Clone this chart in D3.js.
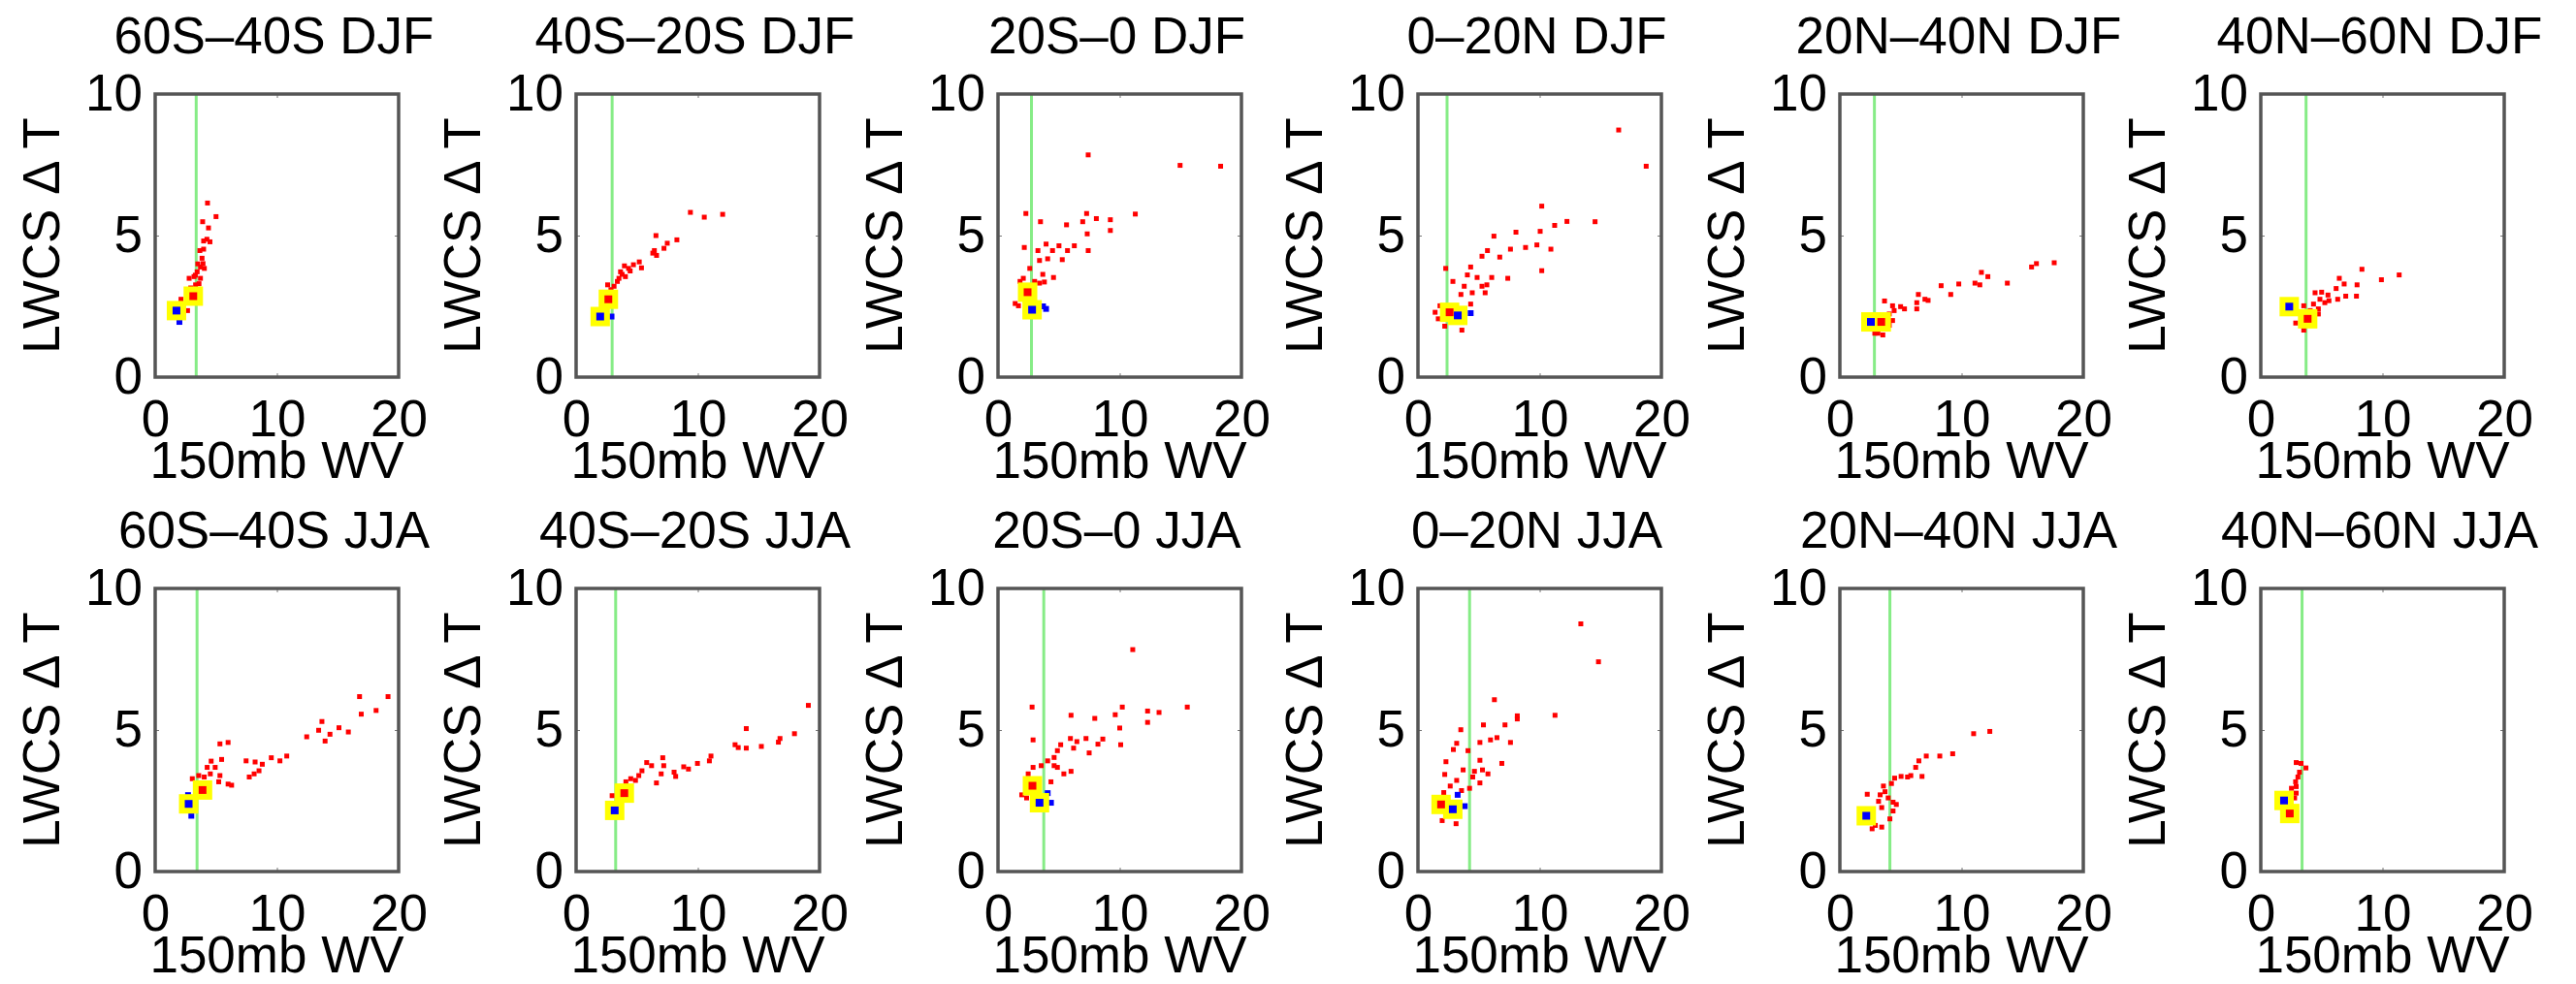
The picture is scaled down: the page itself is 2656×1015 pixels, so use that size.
<!DOCTYPE html>
<html>
<head>
<meta charset="utf-8">
<script src="https://cdn.jsdelivr.net/npm/d3@7"></script>
<style>
  body { margin: 0; background: #fff; }
  text { font-family: "Liberation Sans", Arial, Helvetica, sans-serif; fill: #000; }
</style>
</head>
<body>
<div id="chart"></div>
<script>
// panel titles
const regions = ["60S\u201340S", "40S\u201320S", "20S\u20130", "0\u201320N", "20N\u201340N", "40N\u201360N"];
const seasons = ["DJF", "JJA"];
const xTicks = [0, 10, 20];
const yTicks = [0, 5, 10];
const xLabel = "150mb WV";
const yLabel = "LWCS \u0394 T";

// green reference line (x position), one per panel
const greenX_DJF = [3.37, 2.96, 2.75, 2.39, 2.84, 3.72];
const greenX_JJA = [3.44, 3.25, 3.76, 4.24, 4.11, 3.39];

// highlighted means (yellow squares) : [x, y] or null
const yellowRed_DJF = [[3.13, 2.86], [2.65, 2.75], [2.43, 3.0], [2.6, 2.29], [3.4, 1.95], [3.85, 2.06]];
const yellowBlue_DJF = [[1.75, 2.35], [1.98, 2.14], [2.8, 2.38], [3.27, 2.18], [2.55, 1.95], [2.34, 2.49]];
const yellowRed_JJA = [[3.89, 2.88], [3.96, 2.77], [2.83, 3.03], [1.9, 2.37], null, [2.38, 2.05]];
const yellowBlue_JJA = [[2.75, 2.39], [3.17, 2.16], [3.41, 2.43], [2.86, 2.2], [2.17, 1.97], [1.91, 2.51]];

// extra blue points
const blue_DJF = [[[1.99, 1.95]], [[2.91, 2.14]], [[3.95, 2.41], [3.7, 2.5]], [[4.33, 2.26]], [], []];
const blue_JJA = [[[2.97, 1.97], [2.7, 2.7]], [], [[4.35, 2.43], [4.08, 2.77]], [[3.84, 2.31], [3.26, 2.71]], [], []];

// red scatter points per panel
const red_60S40S_DJF = [[4.3, 6.15], [5.0, 5.67], [3.9, 5.49], [4.38, 5.27], [4.25, 4.87], [4.5, 4.78], [3.98, 4.81], [3.67, 4.47], [3.98, 4.52], [3.93, 4.01], [3.72, 3.89], [4.04, 3.84], [3.45, 3.72], [2.79, 3.49], [3.19, 3.55], [3.72, 3.49], [3.32, 3.26], [2.92, 3.15], [2.79, 2.63], [2.66, 2.35], [2.12, 2.75], [3.5, 4.0], [3.6, 3.3], [3.1, 3.0], [3.85, 4.2], [3.3, 3.6]];
const red_40S20S_DJF = [[9.39, 5.82], [10.53, 5.65], [12.04, 5.75], [6.56, 5.0], [8.28, 4.85], [7.49, 4.73], [7.22, 4.55], [6.43, 4.47], [6.61, 4.3], [6.3, 4.38], [5.37, 3.86], [5.19, 4.07], [4.71, 3.97], [4.31, 3.84], [3.97, 3.93], [3.78, 3.63], [4.05, 3.55], [3.52, 3.49], [3.39, 3.38], [3.12, 3.21], [2.59, 3.26], [2.86, 3.09], [3.65, 3.72], [4.44, 3.75]];
const red_20S0_DJF = [[7.41, 7.85], [14.96, 7.48], [18.29, 7.45], [2.29, 5.78], [3.49, 5.49], [5.63, 5.38], [7.28, 5.78], [6.96, 5.49], [8.08, 5.6], [9.23, 5.56], [11.28, 5.76], [9.23, 5.18], [7.33, 5.06], [2.16, 4.58], [3.28, 4.47], [3.95, 4.7], [4.48, 4.47], [5.01, 4.64], [6.27, 4.64], [5.71, 4.47], [7.41, 4.47], [5.28, 4.15], [4.08, 4.18], [3.41, 4.12], [2.61, 3.84], [3.68, 3.63], [4.56, 3.52], [3.01, 3.38], [3.81, 3.36], [2.08, 3.49], [1.81, 3.38], [1.41, 2.6], [1.68, 2.52], [3.41, 3.32]];
const red_0N20N_DJF = [[16.49, 8.73], [18.75, 7.45], [10.17, 6.04], [11.23, 5.36], [12.24, 5.5], [14.55, 5.49], [6.24, 4.98], [8.05, 5.12], [10.04, 5.15], [5.71, 4.47], [5.26, 4.27], [6.72, 4.24], [7.6, 4.52], [8.84, 4.58], [9.77, 4.67], [10.92, 4.52], [10.17, 3.76], [7.38, 3.49], [2.28, 3.84], [4.33, 3.89], [4.06, 3.61], [4.86, 3.52], [6.06, 3.52], [2.87, 3.38], [3.8, 3.21], [5.26, 3.21], [5.66, 3.26], [5.52, 2.98], [4.46, 2.98], [3.53, 2.92], [4.33, 2.58], [1.81, 2.52], [1.67, 2.06], [2.2, 1.8], [3.61, 1.66], [1.41, 2.29]];
const red_20N40N_DJF = [[16.15, 4.01], [17.61, 4.04], [15.75, 3.89], [11.63, 3.7], [12.16, 3.55], [11.1, 3.32], [11.5, 3.26], [13.76, 3.32], [9.77, 3.29], [9.11, 2.92], [8.32, 3.23], [6.45, 2.92], [6.99, 2.75], [6.32, 2.63], [7.25, 2.71], [3.67, 2.69], [4.33, 2.52], [4.99, 2.49], [5.31, 2.41], [4.46, 2.35], [4.06, 2.23], [6.32, 2.41], [4.33, 2.0], [4.06, 1.83], [3.13, 1.55], [2.87, 1.55], [3.53, 1.49]];
const red_40N60N_DJF = [[8.31, 3.81], [11.37, 3.61], [9.91, 3.44], [6.45, 3.49], [6.85, 3.29], [7.91, 3.26], [6.19, 3.13], [4.46, 2.98], [5.52, 2.9], [6.98, 2.86], [7.86, 2.86], [6.32, 2.75], [4.86, 2.75], [5.26, 2.63], [4.33, 2.58], [4.73, 2.41], [4.06, 2.35], [3.53, 2.52], [4.73, 2.23], [2.87, 1.91], [3.53, 1.66], [5.0, 3.0], [5.6, 2.7]];
const red_60S40S_JJA = [[16.79, 6.18], [19.13, 6.18], [18.15, 5.69], [16.93, 5.56], [13.7, 5.3], [13.43, 4.99], [15.1, 5.08], [14.36, 4.85], [15.87, 4.93], [13.96, 4.61], [12.45, 4.76], [10.81, 4.08], [10.25, 3.91], [9.54, 4.02], [8.8, 3.79], [8.21, 3.87], [7.47, 3.91], [8.53, 3.56], [8.13, 3.45], [7.73, 3.34], [5.99, 4.56], [5.32, 4.51], [5.46, 3.96], [4.93, 3.68], [4.27, 3.68], [4.53, 3.45], [5.32, 3.39], [4.03, 3.34], [3.58, 3.39], [3.05, 3.28], [5.99, 3.09], [6.28, 3.05], [5.22, 3.17], [4.6, 3.9]];
const red_40S20S_JJA = [[19.08, 5.87], [13.98, 5.05], [17.94, 4.87], [16.75, 4.7], [16.62, 4.57], [13.06, 4.48], [13.98, 4.36], [15.22, 4.42], [13.32, 4.38], [11.08, 4.08], [10.95, 3.91], [9.97, 3.82], [9.23, 3.62], [8.84, 3.7], [8.05, 3.51], [8.18, 3.36], [7.12, 4.02], [7.2, 3.74], [6.99, 3.45], [6.6, 3.13], [6.2, 3.74], [5.8, 3.85], [5.41, 3.56], [5.15, 3.39], [4.88, 3.22], [4.49, 3.28], [4.09, 3.17], [3.69, 3.0], [2.96, 2.68]];
const red_20S0_JJA = [[11.07, 7.84], [2.8, 5.81], [15.55, 5.81], [10.21, 5.81], [9.63, 5.54], [6.0, 5.52], [7.95, 5.41], [12.29, 5.67], [13.23, 5.62], [12.29, 5.27], [10.0, 5.07], [10.08, 4.48], [2.88, 4.65], [8.61, 4.68], [8.21, 4.5], [7.23, 4.7], [6.48, 4.59], [5.95, 4.7], [6.21, 4.36], [5.15, 4.48], [4.88, 4.27], [7.49, 4.19], [4.61, 4.03], [4.08, 3.91], [3.55, 3.74], [4.61, 3.74], [2.88, 3.68], [5.41, 3.45], [6.0, 3.54], [4.88, 3.68], [2.48, 3.45], [4.35, 3.17], [1.95, 2.71], [2.35, 2.6]];
const red_0N20N_JJA = [[13.38, 8.75], [14.83, 7.41], [11.26, 5.52], [6.28, 6.07], [8.16, 5.5], [8.16, 5.39], [7.15, 5.18], [5.38, 5.18], [3.52, 5.01], [3.18, 4.53], [2.91, 4.31], [4.11, 4.27], [5.09, 4.56], [5.96, 4.65], [6.49, 4.73], [7.6, 4.56], [6.89, 3.82], [2.3, 3.88], [5.09, 3.93], [3.71, 3.59], [4.64, 3.54], [5.3, 3.59], [5.75, 3.45], [2.2, 3.43], [4.5, 3.34], [5.09, 3.13], [3.18, 3.22], [2.65, 3.02], [4.24, 2.94], [3.58, 2.86], [2.12, 2.79], [1.99, 1.8], [3.13, 1.69], [2.52, 1.99]];
const red_20N40N_JJA = [[12.32, 4.95], [10.99, 4.87], [9.27, 4.16], [8.21, 4.08], [7.1, 4.08], [6.49, 3.91], [6.23, 3.68], [6.75, 3.36], [5.83, 3.39], [5.56, 3.34], [5.03, 3.36], [4.5, 3.3], [4.24, 3.11], [3.58, 3.02], [3.71, 2.82], [3.31, 2.71], [2.25, 2.73], [4.37, 2.45], [3.97, 2.6], [4.64, 2.37], [3.18, 2.48], [3.44, 2.26], [4.37, 2.14], [4.11, 1.86], [3.44, 1.57], [2.65, 1.51], [2.91, 1.63]];
const red_40N60N_JJA = [[2.91, 3.85], [3.31, 3.82], [3.71, 3.66], [3.18, 3.51], [3.05, 3.34], [2.86, 3.17], [2.91, 3.0], [2.52, 2.94], [2.91, 2.77], [2.78, 2.6], [2.52, 1.8], [2.12, 2.16]];

const red_DJF = [red_60S40S_DJF, red_40S20S_DJF, red_20S0_DJF, red_0N20N_DJF, red_20N40N_DJF, red_40N60N_DJF];
const red_JJA = [red_60S40S_JJA, red_40S20S_JJA, red_20S0_JJA, red_0N20N_JJA, red_20N40N_JJA, red_40N60N_JJA];

// layout
const W = 2656, H = 1015;
const plotW = 251, plotH = 292;
const colLeft = [160, 594, 1029, 1462, 1897, 2331];
const rowTop = [97, 607];
const fs = 53;

const svg = d3.select("#chart").append("svg")
  .attr("width", W).attr("height", H)
  .style("background", "#fff");

const rows = [
  { season: seasons[0], green: greenX_DJF, yr: yellowRed_DJF, yb: yellowBlue_DJF, blue: blue_DJF, red: red_DJF },
  { season: seasons[1], green: greenX_JJA, yr: yellowRed_JJA, yb: yellowBlue_JJA, blue: blue_JJA, red: red_JJA }
];

function styleTicks(a) {
  a.select(".domain").remove();
  a.selectAll("line").attr("stroke", "#777");
}

rows.forEach(function (row, r) {
  regions.forEach(function (reg, c) {
    var x = d3.scaleLinear().domain([0, 20]).range([0, plotW]);
    var y = d3.scaleLinear().domain([0, 10]).range([plotH, 0]);

    var g = svg.append("g")
      .attr("transform", "translate(" + colLeft[c] + "," + rowTop[r] + ")");

    // title
    g.append("text")
      .attr("x", plotW / 2 - 3)
      .attr("y", -42)
      .attr("text-anchor", "middle")
      .style("font-size", fs + "px")
      .text(reg + " " + row.season);

    // axes (ticks point inward, like matlab)
    var xAxis = d3.axisBottom(x).tickValues(xTicks).tickSize(-4).tickPadding(23);
    var yAxis = d3.axisLeft(y).tickValues(yTicks).tickSize(-4).tickPadding(13);

    g.append("g").attr("transform", "translate(0," + plotH + ")").call(xAxis)
      .call(styleTicks)
      .selectAll("text").style("font-size", fs + "px").attr("fill", "#000");
    g.append("g").call(yAxis)
      .call(styleTicks)
      .selectAll("text").style("font-size", fs + "px").attr("fill", "#000");
    // top / right ticks, no labels
    g.append("g").call(d3.axisTop(x).tickValues(xTicks).tickSize(-4))
      .call(styleTicks)
      .call(function (a) { a.selectAll("text").remove(); });
    g.append("g").attr("transform", "translate(" + plotW + ",0)")
      .call(d3.axisRight(y).tickValues(yTicks).tickSize(-4))
      .call(styleTicks)
      .call(function (a) { a.selectAll("text").remove(); });

    // axis labels
    g.append("text")
      .attr("x", plotW / 2)
      .attr("y", plotH + 104)
      .attr("text-anchor", "middle")
      .style("font-size", fs + "px")
      .text(xLabel);
    g.append("text")
      .attr("transform", "translate(-99," + (plotH / 2) + ") rotate(-90)")
      .attr("text-anchor", "middle")
      .style("font-size", fs + "px")
      .text(yLabel);

    // green reference line
    g.append("line")
      .attr("x1", x(row.green[c])).attr("x2", x(row.green[c]))
      .attr("y1", y(0)).attr("y2", y(10))
      .attr("stroke", "#86ec86")
      .attr("stroke-width", 3);

    // red points
    var ds = 5;
    g.selectAll(".red")
      .data(row.red[c])
      .enter()
      .append("rect")
      .attr("class", "red")
      .attr("x", function (d) { return x(d[0]) - ds / 2; })
      .attr("y", function (d) { return y(d[1]) - ds / 2; })
      .attr("width", ds).attr("height", ds)
      .attr("fill", "#ff0000");

    // blue extra points
    g.selectAll(".blue")
      .data(row.blue[c])
      .enter()
      .append("rect")
      .attr("class", "blue")
      .attr("x", function (d) { return x(d[0]) - 3; })
      .attr("y", function (d) { return y(d[1]) - 3; })
      .attr("width", 6).attr("height", 6)
      .attr("fill", "#0000ff");

    // yellow highlighted means
    var marks = [];
    if (row.yr[c]) marks.push({ p: row.yr[c], col: "#ff0000" });
    if (row.yb[c]) marks.push({ p: row.yb[c], col: "#0000ff" });
    var ys = 20, is = 8;
    marks.forEach(function (m) {
      g.append("rect")
        .attr("x", x(m.p[0]) - ys / 2).attr("y", y(m.p[1]) - ys / 2)
        .attr("width", ys).attr("height", ys)
        .attr("fill", "#ffff00");
    });
    marks.forEach(function (m) {
      g.append("rect")
        .attr("x", x(m.p[0]) - is / 2).attr("y", y(m.p[1]) - is / 2)
        .attr("width", is).attr("height", is)
        .attr("fill", m.col);
    });

    // frame
    g.append("rect")
      .attr("x", 0).attr("y", 0)
      .attr("width", plotW).attr("height", plotH)
      .attr("fill", "none")
      .attr("stroke", "#555")
      .attr("stroke-width", 3.5);
  });
});
</script>
</body>
</html>
